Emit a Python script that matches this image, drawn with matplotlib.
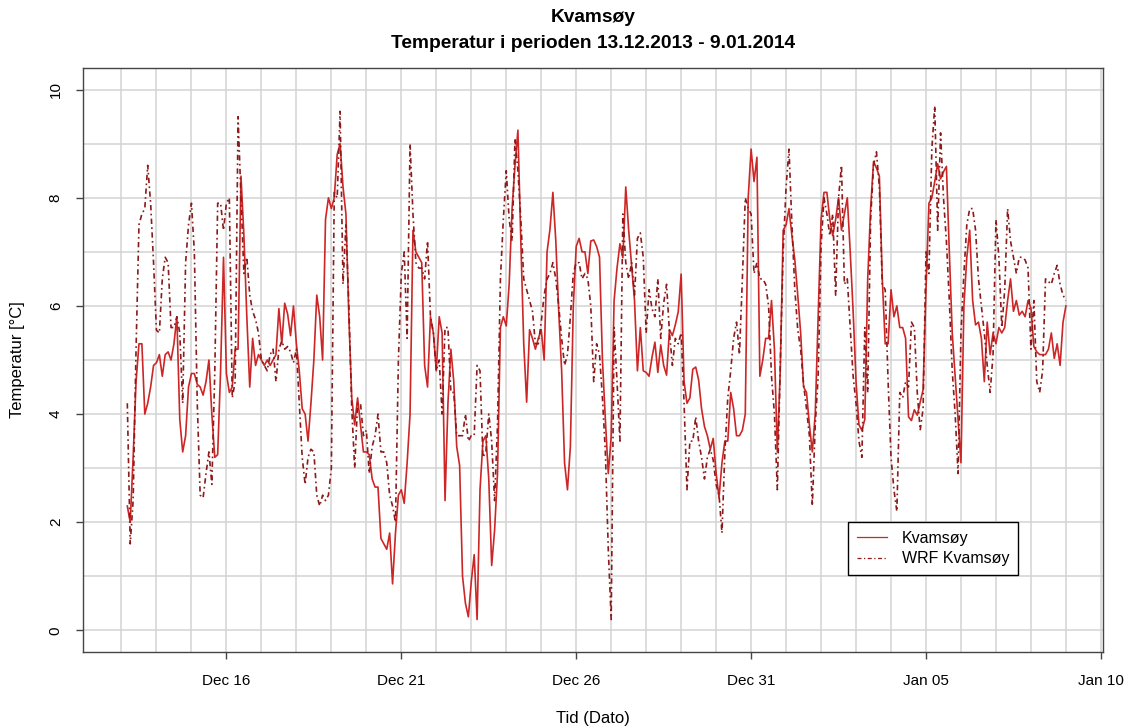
import numpy as np
import pandas as pd
import matplotlib
matplotlib.use('Agg')
import matplotlib.pyplot as plt
import matplotlib.dates as mdates

plt.rcParams['font.family'] = ['Liberation Sans', 'DejaVu Sans']

# 2-timers verdier, 13.12.2013 04:00 - 9.01.2014 00:00
tid = pd.date_range('2013-12-13 04:00', '2014-01-09 00:00', freq='2h')

# målt temperatur, Kvamsøy
kvamsoy = [
    2.3, 2.0, 3.2, 4.6, 5.3, 5.3, 4.0, 4.2, 4.5, 4.9,
    4.95, 5.1, 4.7, 5.1, 5.15, 5.0, 5.3, 5.8, 3.9, 3.3, 3.6, 4.5,
    4.75, 4.75, 4.55, 4.5, 4.35, 4.6, 5.0, 4.0, 3.2, 3.25, 4.8, 6.9,
    4.75, 4.4, 4.5, 5.2, 5.2, 8.4, 7.3, 5.8, 4.5, 5.4, 4.9, 5.1,
    5.0, 4.9, 5.0, 4.9, 5.0, 5.1, 5.95, 5.3, 6.05, 5.85, 5.45, 6.0,
    5.3, 4.8, 4.1, 4.0, 3.5, 4.2, 5.0, 6.2, 5.8, 5.0, 7.6, 8.0,
    7.8, 8.0, 8.8, 9.0, 8.2, 7.7, 5.8, 4.3, 3.8, 4.3, 3.8, 3.3,
    3.3, 3.25, 2.8, 2.65, 2.65, 1.7, 1.6, 1.5, 1.8, 0.86, 1.8, 2.5,
    2.6, 2.35, 3.1, 4.0, 7.4, 7.0, 6.9, 6.8, 4.9, 4.5, 5.8, 5.5,
    4.8, 5.8, 5.5, 2.4, 4.2, 5.2, 4.6, 3.4, 3.05, 1.0, 0.5, 0.25,
    0.9, 1.4, 0.2, 2.6, 3.5, 3.6, 2.8, 1.2, 1.85, 2.9, 5.6, 5.8,
    5.63, 6.4, 7.8, 8.6, 9.25, 7.2, 5.3, 4.22, 5.56, 5.4, 5.2, 5.4,
    5.56, 5.0, 7.0, 7.42, 8.1, 7.2, 5.9, 4.8, 3.1, 2.6, 3.4, 6.0,
    7.1, 7.25, 7.0, 7.0, 6.6, 7.2, 7.22, 7.1, 6.9, 5.0, 3.9, 2.9,
    3.58, 6.1, 6.7, 7.15, 6.89, 8.2, 7.4, 6.75, 6.1, 4.8, 5.6, 4.8,
    4.77, 4.7, 5.05, 5.33, 4.77, 5.28, 4.9, 4.72, 5.56, 5.45, 5.65, 5.89,
    6.59, 4.6, 4.2, 4.3, 4.83, 4.87, 4.63, 4.1, 3.77, 3.6, 3.35, 3.55,
    2.91, 2.45, 3.1, 3.5, 3.5, 4.4, 4.1, 3.6, 3.6, 3.7, 4.0, 8.0,
    8.9, 8.3, 8.75, 4.7, 5.0, 5.4, 5.4, 6.1, 5.2, 3.3, 4.8, 7.4,
    7.5, 7.8, 7.3, 6.85, 6.2, 5.5, 4.5, 4.4, 3.8, 3.3, 4.0, 5.8,
    7.6, 8.1, 8.1, 7.6, 7.3, 7.6, 8.0, 7.4, 7.7, 8.0, 7.0, 5.9,
    4.6, 3.8, 3.7, 3.9, 6.5, 7.8, 8.67, 8.55, 8.4, 6.5, 5.3, 5.3,
    6.3, 5.8, 6.0, 5.6, 5.6, 5.4, 3.95, 3.88, 4.08, 3.98, 4.22, 4.45,
    6.3, 7.9, 8.0, 8.3, 8.63, 8.35, 8.48, 8.58, 7.0, 5.5, 4.7, 3.9,
    3.1, 6.0, 6.9, 7.4, 6.1, 5.65, 5.7, 5.4, 4.6, 5.7, 5.1, 5.5,
    5.3, 5.6, 5.5, 5.6, 6.1, 6.5, 5.9, 6.1, 5.83, 5.9, 5.8, 6.1,
    5.96, 5.25, 5.15, 5.1, 5.1, 5.1, 5.2, 5.5, 5.03, 5.3, 4.9, 5.7,
    6.0,
]

# WRF-modell, Kvamsøy
wrf_kvamsoy = [
    4.2, 1.6, 2.4, 5.2, 7.5, 7.7, 7.8, 8.6, 7.9, 6.8,
    5.55, 5.5, 6.5, 6.9, 6.8, 5.6, 5.6, 5.8, 5.5, 4.2, 6.8, 7.5,
    7.9, 7.0, 4.2, 2.5, 2.45, 2.9, 3.3, 2.7, 4.75, 7.9, 7.9, 7.4,
    7.9, 8.0, 4.3, 4.6, 9.5, 8.0, 6.6, 6.9, 6.2, 5.9, 5.75, 5.5,
    5.0, 4.9, 4.8, 5.1, 5.2, 4.6, 5.2, 5.35, 5.2, 5.25, 5.15, 4.95,
    5.2, 4.2, 3.2, 2.7, 3.2, 3.35, 3.3, 2.5, 2.3, 2.5, 2.4, 2.5,
    3.0, 8.1, 8.0, 9.6, 6.4, 7.5, 6.0, 4.1, 3.0, 4.2, 4.2, 3.6,
    3.7, 2.9, 3.4, 3.6, 4.0, 3.3, 3.3, 3.1, 2.5, 2.3, 2.0, 5.0,
    6.6, 7.0, 5.4, 9.0, 7.7, 6.8, 6.7, 6.7, 6.5, 7.2, 5.8, 5.5,
    4.8, 5.0, 4.0, 5.6, 5.6, 4.4, 4.4, 3.6, 3.6, 3.6, 4.0, 3.5,
    3.6, 3.6, 4.9, 4.8, 3.2, 3.3, 4.0, 3.5, 2.4, 3.8, 6.5, 7.6,
    8.5, 7.6, 7.2, 9.1, 8.5, 7.6, 6.5, 6.3, 6.1, 5.9, 5.3, 5.3,
    5.7, 6.2, 6.5, 6.6, 6.8, 6.5, 6.0, 5.4, 4.9, 5.1, 5.8, 6.6,
    6.8, 6.8, 6.5, 6.6, 6.5, 6.0, 4.6, 5.3, 5.1, 4.3, 3.3, 1.5,
    0.2, 5.6, 4.6, 3.5, 7.7, 6.8, 6.5, 6.8, 6.2, 7.25, 7.35, 6.9,
    5.5, 6.3, 5.95, 5.8, 6.5, 5.4, 6.05, 6.4, 5.5, 4.9, 5.4, 5.3,
    5.5, 4.2, 2.6, 3.5, 3.5, 3.95, 3.5, 3.2, 2.8, 3.2, 3.35, 3.15,
    2.7, 2.5, 1.8, 3.3, 4.3, 4.8, 5.4, 5.7, 5.1, 6.5, 8.0, 7.8,
    7.7, 6.6, 6.8, 6.5, 6.5, 6.4, 6.0, 4.7, 4.0, 2.6, 4.9, 7.0,
    8.2, 8.9, 7.5, 6.3, 5.56, 5.2, 4.55, 4.1, 3.6, 2.3, 3.8, 4.7,
    7.1, 8.0, 7.7, 7.3, 7.7, 6.2, 8.0, 8.6, 6.4, 6.5, 5.6, 4.7,
    4.2, 3.5, 3.2, 5.6, 4.4, 7.6, 8.6, 8.85, 8.2, 6.4, 6.3, 4.6,
    3.2, 2.6, 2.2, 4.4, 4.3, 4.6, 4.5, 5.7, 5.6, 4.4, 3.7, 4.1,
    7.0, 6.6, 8.9, 9.7, 7.4, 9.2, 8.0, 7.2, 6.1, 4.8, 4.0, 2.9,
    5.5, 6.6, 7.5, 7.8, 7.8, 7.4, 6.5, 6.0, 5.5, 4.9, 4.4, 5.1,
    7.6, 6.9, 5.6, 6.3, 7.8, 7.2, 6.9, 6.6, 6.9, 6.9, 6.85, 6.7,
    5.2, 6.1, 4.6, 4.4, 4.8, 6.5, 6.45, 6.4, 6.6, 6.75, 6.4, 6.2,
    6.1,
]

farge_obs = '#CD2626'
farge_wrf = '#8B1A1A'
akse = '#444444'

fig = plt.figure(figsize=(11.27, 7.28), dpi=100)
ax = fig.add_axes([83 / 1127, 1 - 652 / 728, 1020 / 1127, 584 / 728])

# rutenett: en linje per dogn og per grad
start = pd.Timestamp('2013-12-13')
for dag in pd.date_range(start, '2014-01-10', freq='D'):
    ax.axvline(dag, color='#d3d3d3', lw=1.1, zorder=0)
for y in range(0, 11):
    ax.axhline(y, color='#d3d3d3', lw=1.1, zorder=0)

ax.plot(tid, kvamsoy, color=farge_obs, lw=1.2, label='Kvamsøy')
ax.plot(tid, wrf_kvamsoy, color=farge_wrf, lw=1.2,
        linestyle=(0, (3.2, 2.0, 1.0, 2.0)), label='WRF Kvamsøy')

ax.set_xlim(start - pd.Timedelta(days=1.10), start + pd.Timedelta(days=28.06))
ax.set_ylim(-0.4, 10.4)

ax.set_xticks(pd.date_range('2013-12-16', '2014-01-10', freq='5D'))
ax.xaxis.set_major_formatter(mdates.DateFormatter('%b %d'))
ax.set_yticks(range(0, 11, 2))
for lab in ax.get_yticklabels():
    lab.set_rotation(90)
    lab.set_va('center')

for s in ax.spines.values():
    s.set_color(akse)
    s.set_linewidth(1.0)
ax.tick_params(direction='out', length=5, width=1, color=akse,
               labelsize=11, labelcolor='black')
ax.tick_params(axis='x', pad=10.5)
ax.tick_params(axis='y', pad=9.5)

leg = ax.legend(loc='upper left', bbox_to_anchor=(0.75, 0.2226),
                borderaxespad=0, fancybox=False, framealpha=1,
                edgecolor='black', fontsize=11.5, handlelength=1.9,
                handletextpad=0.9, borderpad=0.55, labelspacing=0.35)
leg.get_frame().set_linewidth(1.0)
for h in leg.get_lines():
    h.set_linewidth(0.9)

fig.text(593 / 1127, 1 - 18 / 728, 'Kvamsøy', ha='center', va='center',
         fontsize=13.8, fontweight='bold')
fig.text(593 / 1127, 1 - 44 / 728, 'Temperatur i perioden 13.12.2013 - 9.01.2014',
         ha='center', va='center', fontsize=13.8, fontweight='bold')
fig.text(593 / 1127, 1 - 718 / 728, 'Tid (Dato)', ha='center', va='center', fontsize=12)
fig.text(18 / 1127, 1 - 360 / 728, 'Temperatur [°C]', ha='center', va='center',
         rotation=90, fontsize=12)

fig.savefig('out.png', dpi=100)
